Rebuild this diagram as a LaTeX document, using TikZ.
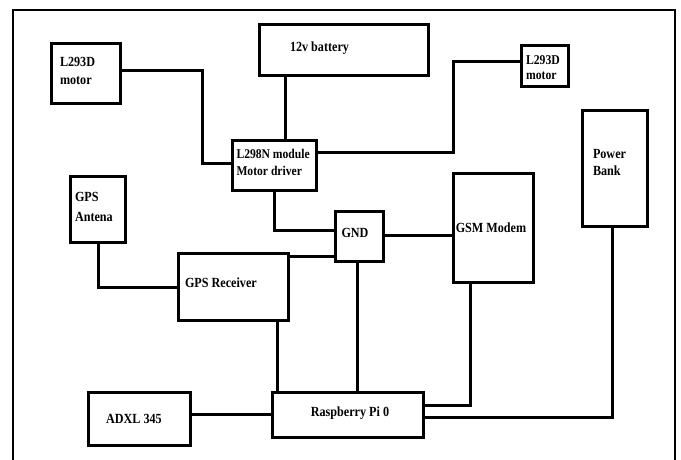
\documentclass[tikz,border=0pt]{standalone}
\usepackage{fontspec}
\setmainfont{Liberation Serif}[FakeStretch=0.87]
\begin{document}
\begin{tikzpicture}[x=1bp,y=-1bp,
  box/.style={draw,line width=3bp,inner sep=0pt,outer sep=0pt},
  wire/.style={line width=3bp},
  frame/.style={line width=2.2bp},
  lbl/.style={inner sep=0pt,outer sep=0pt,align=left,font=\fontsize{14}{17.5}\selectfont\bfseries}]
\useasboundingbox (0,0) rectangle (681,460);
\draw[frame] (13,462) -- (13,10) -- (675,10) -- (675,462);
% boxes
\node[box,minimum width=69bp,minimum height=60bp] (lmot) at (85.5,74) {};
\node[box,minimum width=169bp,minimum height=51bp] (batt) at (343.5,50.5) {};
\node[box,minimum width=47bp,minimum height=41bp] (rmot) at (544.5,66.5) {};
\node[box,minimum width=65bp,minimum height=116bp] (pbank) at (614.5,169) {};
\node[box,minimum width=84bp,minimum height=50bp] (l298) at (274,166) {};
\node[box,minimum width=55bp,minimum height=66bp] (gpsant) at (97.5,210) {};
\node[box,minimum width=110bp,minimum height=66bp] (gpsrx) at (233,287) {};
\node[box,minimum width=48bp,minimum height=50bp] (gnd) at (359,237) {};
\node[box,minimum width=80bp,minimum height=108bp] (gsm) at (493,228) {};
\node[box,minimum width=151bp,minimum height=45bp] (rpi) at (347.5,414.5) {};
\node[box,minimum width=102bp,minimum height=53bp] (adxl) at (139,418.5) {};
% labels
\node[lbl,anchor=north west,font=\fontsize{14}{18}\selectfont\bfseries] (tlmot) at (60,57.4) {L293D\\motor};
\node[lbl,anchor=base west] (tbatt) at (290,51.6) {12v battery};
\node[lbl,anchor=north west,font=\fontsize{13.5}{15}\selectfont\bfseries] (trmot) at (526,55.5) {L293D\\motor};
\node[lbl,anchor=north west,font=\fontsize{14}{17}\selectfont\bfseries] (tpbank) at (593,149.4) {Power\\Bank};
\node[lbl,anchor=north west,font=\fontsize{13.4}{17}\selectfont\bfseries] (tl298) at (236.5,149.6) {L298N module\\Motor driver};
\node[lbl,anchor=north west,font=\fontsize{14}{20}\selectfont\bfseries] (tgpsant) at (75,192.4) {GPS\\Antena};
\node[lbl,anchor=base west] (tgpsrx) at (185,287.6) {GPS Receiver};
\node[lbl,anchor=base] (tgnd) at (355,237.6) {GND};
\node[lbl,anchor=base] (tgsm) at (491,232.6) {GSM Modem};
\node[lbl,anchor=base] (trpi) at (350,416.6) {Raspberry Pi 0};
\node[lbl,anchor=base] (tadxl) at (134,423.6) {ADXL 345};
% connectors
\draw[wire] (lmot.east |- 0,71) -- (202,71) -- (202,164) -- (l298.west |- 0,164);
\draw[wire] (batt.south -| 285,0) -- (l298.north -| 285,0);
\draw[wire] (rmot.west |- 0,62) -- (453,62) -- (453,153) -- (l298.east |- 0,153);
\draw[wire] (l298.south -| 274,0) -- (274,231) -- (gnd.west |- 0,231);
\draw[wire] (gpsrx.east |- 0,257) -- (gnd.west |- 0,257);
\draw[wire] (gnd.east |- 0,236) -- (gsm.west |- 0,236);
\draw[wire] (gpsant.south -| 98,0) -- (98,288) -- (gpsrx.west |- 0,288);
\draw[wire] (gnd.south -| 357,0) -- (rpi.north -| 357,0);
\draw[wire] (gpsrx.south -| 277,0) -- (rpi.north -| 277,0);
\draw[wire] (adxl.east |- 0,414) -- (rpi.west |- 0,414);
\draw[wire] (gsm.south -| 470,0) -- (470,405) -- (rpi.east |- 0,405);
\draw[wire] (pbank.south -| 612,0) -- (612,417) -- (rpi.east |- 0,417);
\end{tikzpicture}
\end{document}
